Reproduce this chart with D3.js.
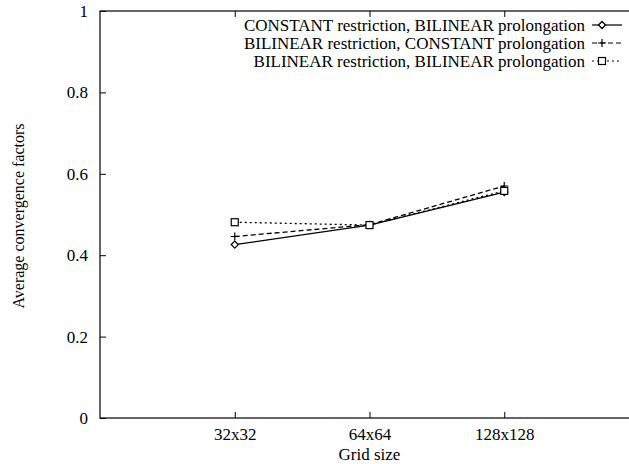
<!DOCTYPE html>
<html>
<head>
<meta charset="utf-8">
<script src="https://cdn.jsdelivr.net/npm/d3@7"></script>
<style>
  body { margin: 0; background: #fff; }
  text { font-family: "Liberation Serif", "Times New Roman", serif; fill: #000; }
</style>
</head>
<body>
<div id="chart"></div>
<script>
// data
var gridSizes = ["32x32", "64x64", "128x128"];
var constBilinear = [0.426, 0.474, 0.555];
var bilinearConst = [0.446, 0.475, 0.570];
var bilinearBilinear = [0.481, 0.474, 0.558];
var yTicks = [0, 0.2, 0.4, 0.6, 0.8, 1];

var seriesNames = [
  "CONSTANT restriction, BILINEAR prolongation",
  "BILINEAR restriction, CONSTANT prolongation",
  "BILINEAR restriction, BILINEAR prolongation"
];

var svgWidth = 629;
var svgHeight = 464;

var svg = d3.select("#chart")
  .append("svg")
  .attr("width", svgWidth)
  .attr("height", svgHeight);

// plot frame runs past the right edge of the picture
var x = d3.scaleLinear()
  .domain([0, 4])
  .range([100, 639]);

var y = d3.scaleLinear()
  .domain([0, 1])
  .range([418, 11]);

// frame
svg.append("rect")
  .attr("x", x(0))
  .attr("y", y(1))
  .attr("width", x(4) - x(0))
  .attr("height", y(0) - y(1))
  .attr("fill", "none")
  .attr("stroke", "#000")
  .attr("stroke-width", 1.2);

// axes, ticks pointing inward
var bottomAxis = d3.axisBottom(x)
  .tickValues([1, 2, 3])
  .tickFormat(function(d) { return gridSizes[d - 1]; })
  .tickSizeInner(-6)
  .tickSizeOuter(0)
  .tickPadding(10);

var topAxis = d3.axisTop(x)
  .tickValues([1, 2, 3])
  .tickFormat("")
  .tickSizeInner(-6)
  .tickSizeOuter(0);

var leftAxis = d3.axisLeft(y)
  .tickValues(yTicks)
  .tickFormat(function(d) { return d3.format("")(d); })
  .tickSizeInner(-6)
  .tickSizeOuter(0)
  .tickPadding(12);

svg.append("g")
  .attr("transform", `translate(0, ${y(0)})`)
  .call(bottomAxis);

svg.append("g")
  .attr("transform", `translate(0, ${y(1)})`)
  .call(topAxis);

svg.append("g")
  .attr("transform", `translate(${x(0)}, 0)`)
  .call(leftAxis);

svg.selectAll(".domain").remove();
svg.selectAll(".tick line").attr("stroke", "#000").attr("stroke-width", 1);
svg.selectAll(".tick text")
  .style("font-family", "Liberation Serif, Times New Roman, serif")
  .style("font-size", "17px");

// axis labels
svg.append("text")
  .attr("transform", "rotate(-90)")
  .attr("x", -216)
  .attr("y", 24)
  .attr("text-anchor", "middle")
  .style("font-size", "16px")
  .text("Average convergence factors");

svg.append("text")
  .attr("x", x(2))
  .attr("y", 460)
  .attr("text-anchor", "middle")
  .style("font-size", "17px")
  .text("Grid size");

// series
var series = [
  { name: seriesNames[0], values: constBilinear, dash: null, marker: "diamond" },
  { name: seriesNames[1], values: bilinearConst, dash: "5,3", marker: "plus" },
  { name: seriesNames[2], values: bilinearBilinear, dash: "2,3", marker: "square" }
];

var line = d3.line()
  .x(function(d, i) { return x(i + 1); })
  .y(function(d) { return y(d); });

function drawMarker(g, type, cx, cy) {
  if (type === "diamond") {
    g.append("path")
      .attr("d", `M${cx},${cy - 3.5}L${cx + 3.5},${cy}L${cx},${cy + 3.5}L${cx - 3.5},${cy}Z`)
      .attr("fill", "#fff")
      .attr("stroke", "#000")
      .attr("stroke-width", 1.3);
  } else if (type === "plus") {
    g.append("path")
      .attr("d", `M${cx - 4},${cy}H${cx + 4}M${cx},${cy - 4}V${cy + 4}`)
      .attr("stroke", "#000")
      .attr("stroke-width", 1.2);
  } else {
    g.append("rect")
      .attr("x", cx - 3.5)
      .attr("y", cy - 3.5)
      .attr("width", 7)
      .attr("height", 7)
      .attr("fill", "#fff")
      .attr("stroke", "#000")
      .attr("stroke-width", 1.2);
  }
}

series.forEach(function(s, k) {
  var g = svg.append("g");
  g.append("path")
    .datum(s.values)
    .attr("d", line)
    .attr("fill", "none")
    .attr("stroke", "#000")
    .attr("stroke-width", 1.3)
    .attr("stroke-dasharray", s.dash);

  s.values.forEach(function(v, i) {
    drawMarker(g, s.marker, x(i + 1), y(v));
  });

  // legend row
  var ly = 25 + k * 18;
  svg.append("text")
    .attr("x", 585)
    .attr("y", ly)
    .attr("dy", "0.35em")
    .attr("text-anchor", "end")
    .style("font-size", "17px")
    .text(s.name);

  svg.append("line")
    .attr("x1", 592)
    .attr("x2", 622)
    .attr("y1", ly)
    .attr("y2", ly)
    .attr("stroke", "#000")
    .attr("stroke-width", 1.2)
    .attr("stroke-dasharray", s.dash);

  drawMarker(svg, s.marker, 602, ly);
});
</script>
</body>
</html>
